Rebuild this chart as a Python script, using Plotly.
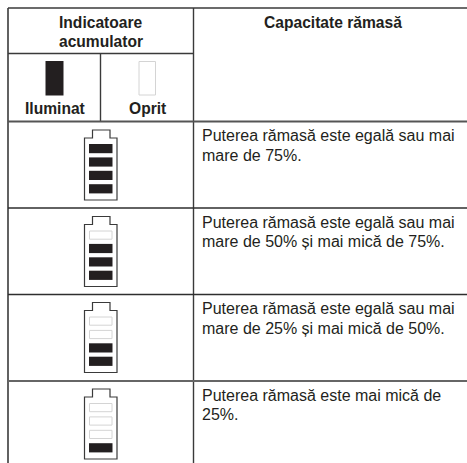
import plotly.graph_objects as go

FONT = "Liberation Sans, Arial, sans-serif"
INK = "#231f20"
RULE = "#3a3a3a"
OFF = "#d4d4d4"

header_main = ["Indicatoare", "acumulator"]
header_capacity = "Capacitate rămasă"
legend_labels = ["Iluminat", "Oprit"]
lit_segments = [4, 3, 2, 1]
row_text = [
    ["Puterea rămasă este egală sau mai", "mare de 75%."],
    ["Puterea rămasă este egală sau mai", "mare de 50% și mai mică de 75%."],
    ["Puterea rămasă este egală sau mai", "mare de 25% și mai mică de 50%."],
    ["Puterea rămasă este mai mică de", "25%."],
]
row_tops = [121.5, 208, 294.5, 381]
row_rule_widths = [1.8, 1.3, 1.3, 1.8]
row_rule_colors = ["#555555", "#2e2e2e", "#2e2e2e", "#666666"]
battery_tops = [130, 216.5, 302.5, 389]

W, H = 467, 463
fig = go.Figure()
shapes, notes = [], []


def rule(x0, y0, x1, y1, width=1.4, color=RULE):
    shapes.append(dict(type="line", x0=x0, y0=y0, x1=x1, y1=y1, xref="x", yref="y",
                       line=dict(color=color, width=width)))


def box(x0, y0, x1, y1, fill, line=None):
    shapes.append(dict(type="rect", x0=x0, y0=y0, x1=x1, y1=y1, xref="x", yref="y",
                       fillcolor=fill,
                       line=dict(color=line or fill, width=1 if line else 0)))


def text(x, y, s, bold=False, anchor="center", size=16):
    notes.append(dict(x=x, y=y, text=f"<b>{s}</b>" if bold else s, showarrow=False,
                      xref="x", yref="y", xanchor=anchor, yanchor="middle",
                      font=dict(family=FONT, size=size, color=INK)))


# table grid
rule(8, 8, W, 8)
rule(8, 8, 8, H, width=1.6)
rule(193.5, 8, 193.5, H)
rule(8, 53.5, 193.5, 53.5)
rule(100.5, 53.5, 100.5, 121.5)
for top, rw, rc in zip(row_tops, row_rule_widths, row_rule_colors):
    rule(8, top, W, top, width=rw, color=rc)

# header
text(100.5, 22, header_main[0], bold=True, size=15.6)
text(100.5, 41, header_main[1], bold=True, size=15.6)
text(332.5, 22, header_capacity, bold=True, size=15.6)
box(45.5, 61, 63.5, 95.5, INK)
box(139, 61.5, 155.5, 95, "white", OFF)
text(55, 108.5, legend_labels[0], bold=True, size=15.6)
text(147, 108.5, legend_labels[1], bold=True, size=15.6)

# battery rows
for top, lit, lines, row in zip(battery_tops, lit_segments, row_text, row_tops):
    path = (f"M84.5,{top + 8} L92.5,{top + 8} L92.5,{top} L110,{top} L110,{top + 8} "
            f"L117,{top + 8} L117,{top + 70} L84.5,{top + 70} Z")
    shapes.append(dict(type="path", path=path, xref="x", yref="y", fillcolor="white",
                       line=dict(color=RULE, width=1.2)))
    for i in range(4):
        y0 = top + 14 + i * 13.4
        is_lit = (4 - i) <= lit
        if is_lit:
            box(89, y0, 112.5, y0 + 9.2, INK)
        else:
            box(89.5, y0 + .5, 112, y0 + 8.7, "white", OFF)
    for j, line in enumerate(lines):
        text(199.5, row + 14 + j * 19.7, line, anchor="left")

fig.update_layout(
    width=W, height=H, margin=dict(l=0, r=0, t=0, b=0),
    paper_bgcolor="white", plot_bgcolor="white", showlegend=False,
    xaxis=dict(range=[0, W], visible=False, fixedrange=True),
    yaxis=dict(range=[H, 0], visible=False, fixedrange=True),
    shapes=shapes, annotations=notes,
)
fig.write_html(
    "out.html",
    config={"displayModeBar": False},
    post_script="document.body.style.margin='0';document.body.style.overflow='hidden';",
)
